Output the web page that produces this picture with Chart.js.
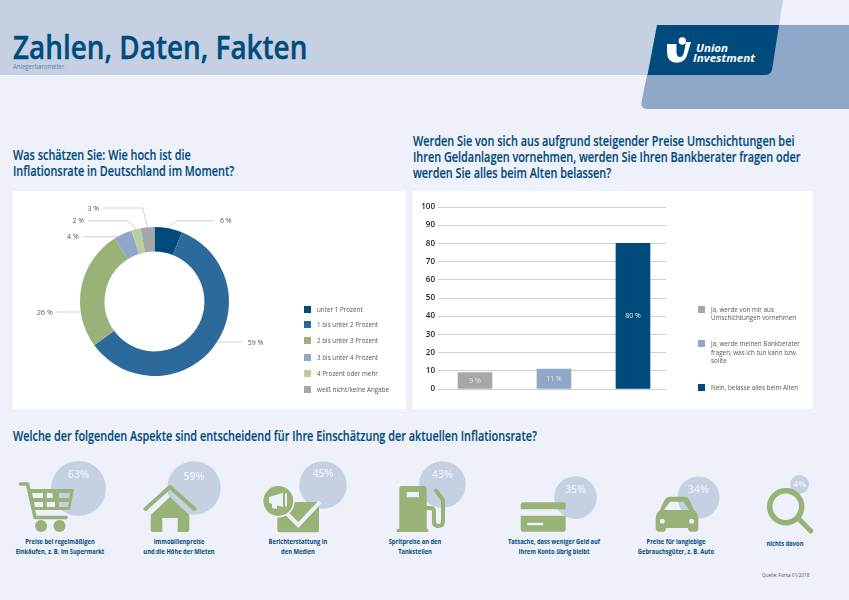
<!DOCTYPE html>
<html lang="de">
<head>
<meta charset="utf-8">
<title>Zahlen, Daten, Fakten</title>
<script src="https://cdn.jsdelivr.net/npm/chart.js@4"></script>
<style>
  html, body { margin: 0; padding: 0; }
  body { position: relative; width: 849px; height: 600px; overflow: hidden; background: #eef1f9; font-family: "Open Sans", sans-serif; }
  .abs { position: absolute; white-space: nowrap; }
  .panel { position: absolute; top: 191px; width: 393px; height: 218px; background: #fff; }
  canvas { position: absolute; display: block; }
  .titel { left: 13px; top: 25px; font-size: 33px; line-height: 44px; font-weight: 600; color: #004b7c; -webkit-text-stroke: .4px #004b7c; transform-origin: left center; transform: scaleX(.845); }
  .unter { left: 13px; top: 61px; font-size: 7.5px; line-height: 11px; color: #5f83a3; transform-origin: left center; transform: scaleX(.8); }
  .frage { font-size: 13.5px; line-height: 16px; font-weight: 600; color: #004b7c; -webkit-text-stroke: .15px #004b7c; transform-origin: left center; transform: scaleX(.805); }
  .legende { font-size: 7.5px; line-height: 8.7px; color: #555; transform-origin: left center; transform: scaleX(.84); }
  .kasten { position: absolute; width: 7px; height: 7px; }
  .aspekt { font-size: 7.5px; line-height: 10.5px; font-weight: 700; color: #004b7c; text-align: center; width: 130px; transform: scaleX(.77); }
  .quelle { left: 762px; top: 571px; font-size: 5.5px; line-height: 8px; color: #555; transform-origin: left center; transform: scaleX(.85); }
  svg { position: absolute; left: 0; top: 0; }
</style>
</head>
<body>

<!-- Kopfbereich -->
<svg width="849" height="120" style="z-index:0">
  <path d="M0 0H783L771 75H0Z" fill="#c5d0e3"/>
  <path d="M778 25H849V109H647Q640.500 109 641.500 102.500L647 75Z" fill="#8fa7c8"/>
  <path d="M657 25H779L772.200 69Q771 75 765 75H647.500Z" fill="#004b7c"/>
  <path d="M667 44H676.500V52Q676.500 57 680 57Q683 57 684 52L686 42H691L688 52Q686 62.700 677 62.700Q667 62.700 667 52Z" fill="#fff"/>
  <circle cx="682.300" cy="41" r="3.700" fill="#fff"/>
  <text x="696" y="51.700" font-family="Open Sans" font-size="10.500" font-weight="700" font-style="italic" fill="#fff" textLength="32" lengthAdjust="spacingAndGlyphs">Union</text>
  <text x="693" y="61.700" font-family="Open Sans" font-size="10.500" font-weight="700" font-style="italic" fill="#fff" textLength="62" lengthAdjust="spacingAndGlyphs">Investment</text>
</svg>
<div class="abs titel">Zahlen, Daten, Fakten</div>
<div class="abs unter">Anlegerbarometer</div>

<div class="abs frage" style="left:13px;top:147px">Was schätzen Sie: Wie hoch ist die<br>Inflationsrate in Deutschland im Moment?</div>
<div class="abs frage" style="left:413px;top:133px">Werden Sie von sich aus aufgrund steigender Preise Umschichtungen bei<br>Ihren Geldanlagen vornehmen, werden Sie Ihren Bankberater fragen oder<br>werden Sie alles beim Alten belassen?</div>
<div class="abs frage" style="left:13px;top:428px">Welche der folgenden Aspekte sind entscheidend für Ihre Einschätzung der aktuellen Inflationsrate?</div>

<div class="panel" style="left:13px"><canvas id="ringChart" width="393" height="218"></canvas></div>
<div class="panel" style="left:413px;width:400px"><canvas id="balkenChart" width="400" height="218"></canvas></div>

<div id="legenden"></div>
<div id="blasen"></div>

<!-- Symbole über den Blasen -->
<svg width="849" height="600" style="z-index:2;pointer-events:none" fill="#98b278">
  <!-- Einkaufswagen -->
  <path fill-rule="evenodd" d="M29 489H74L70 510H33.500ZM32 493L33 498H43V493ZM46.700 493V498H53V493ZM59 493V498H69L70 493ZM34 502L35 507H43V502ZM46.700 502V507H55V502ZM59 502V507H68L69 502Z"/>
  <path d="M20.500 484H27.500L35 517.500H66" fill="none" stroke="#98b278" stroke-width="3.500" stroke-linecap="round" stroke-linejoin="round"/>
  <circle cx="41" cy="526" r="6"/><circle cx="59.500" cy="526" r="6"/>
  <!-- Haus -->
  <path d="M145.500 509L170 487L194.500 509" fill="none" stroke="#98b278" stroke-width="4" stroke-linecap="round" stroke-linejoin="round"/>
  <path d="M150.700 515L170 497L189.300 515V530Q189.300 532 187 532H177.700V518H162.300V532H153Q150.700 532 150.700 530Z"/>
  <!-- Berichterstattung -->
  <path d="M277.300 502H319V530Q319 532.300 316.700 532.300H279.600Q277.300 532.300 277.300 530Z"/>
  <path d="M286.700 513.300L298.300 525L320 502" fill="none" stroke="#eef1f9" stroke-width="4"/>
  <circle cx="278.300" cy="501" r="16.500" fill="#eef1f9"/>
  <circle cx="278.300" cy="501" r="15"/>
  <path d="M269 497L283 493V507L269 503ZM272 504H277V509L272 508ZM285 493.500H287V506.500H285Z" fill="#eef1f9"/>
  <!-- Zapfsäule -->
  <path fill-rule="evenodd" d="M402 486H424Q426.700 486 426.700 489V529H428.300V532H396.700V529H399.300V489Q399.300 486 402 486ZM406.700 492V497.300H419V492Z"/>
  <path d="M427 508H431Q434 508 434 512V522Q434 526 438.500 526Q443 526 443 521V500L436 490.500" fill="none" stroke="#98b278" stroke-width="4" stroke-linecap="round" stroke-linejoin="round"/>
  <!-- Karte -->
  <path d="M520.700 509.300V505Q520.700 502.300 523.500 502.300H563Q565.700 502.300 565.700 505V509.300Z"/>
  <path fill-rule="evenodd" d="M520.700 515.700H565.700V529Q565.700 531.700 563 531.700H523.500Q520.700 531.700 520.700 529ZM527.300 522.700V525.300H543.300V522.700Z"/>
  <!-- Auto -->
  <path fill-rule="evenodd" d="M670 496.700H684Q688 496.700 690 501L694 510Q698.300 513 698.300 519V528Q698.300 531.700 695 531.700H691Q688 531.700 688 528H666Q666 531.700 663 531.700H659Q655.700 531.700 655.700 528V519Q655.700 513 660 510L664 501Q666 496.700 670 496.700ZM670 501.700L664 510H689.300L683.300 501.700ZM662.300 518.800A2.500 2.500 0 1 0 662.300 523.800A2.500 2.500 0 1 0 662.300 518.800ZM691.700 518.800A2.500 2.500 0 1 0 691.700 523.800A2.500 2.500 0 1 0 691.700 518.800Z"/>
  <!-- Lupe -->
  <circle cx="785.700" cy="506.700" r="16" fill="none" stroke="#98b278" stroke-width="5.500"/>
  <path d="M798.300 518.300L810.700 531" fill="none" stroke="#98b278" stroke-width="5" stroke-linecap="round"/>
</svg>

<div id="aspekte"></div>
<div class="abs quelle">Quelle: Forsa 01/2018</div>

<script>
// =========================================
// DATEN
// =========================================
const ringLabels = ["unter 1 Prozent", "1 bis unter 2 Prozent", "2 bis unter 3 Prozent", "3 bis unter 4 Prozent", "4 Prozent oder mehr", "weiß nicht/keine Angabe"];
const ringWerte = [6, 59, 26, 4, 2, 3];

const balkenLabels = [
    ["Ja, werde von mir aus", "Umschichtungen vornehmen"],
    ["Ja, werde meinen Bankberater", "fragen, was ich tun kann bzw.", "sollte"],
    ["Nein, belasse alles beim Alten"]
];
const balkenWerte = [9, 11, 80];

const aspektLabels = [
    ["Preise bei regelmäßigen", "Einkäufen, z. B. im Supermarkt"],
    ["Immobilienpreise", "und die Höhe der Mieten"],
    ["Berichterstattung in", "den Medien"],
    ["Spritpreise an den", "Tankstellen"],
    ["Tatsache, dass weniger Geld auf", "Ihrem Konto übrig bleibt"],
    ["Preise für langlebige", "Gebrauchsgüter, z. B. Auto"],
    ["nichts davon"]
];
const aspektWerte = [63, 59, 45, 43, 35, 34, 4];

// =========================================
// FARBEN UND LAYOUT
// =========================================
const ringFarben = ["#004b7c", "#2b6a9b", "#98b278", "#8fa7c9", "#b9cfa3", "#a5a7aa"];
const balkenFarben = ["#a5a7aa", "#8fa7c9", "#004b7c"];
const linienFarbe = "#cdd0d2";
const schrift = '"Open Sans", sans-serif';

// Beschriftungslinien des Rings, in Pixeln der Zeichenfläche (textX, y, optional Knick)
const ringLinien = [
    { textX: 201, y: 29.7, knickX: 162.7 },
    { textX: 228.7, y: 151 },
    { textX: 43.7, y: 121 },
    { textX: 69.7, y: 45.7 },
    { textX: 75, y: 29.7, knickX: 115 },
    { textX: 90, y: 17, knickX: 129.7 }
];

const ringLegendeY = [309, 324.3, 340, 357.3, 373, 389];
const balkenLegendeY = [309, 343.5, 387];

const blasenX = [78.5, 194, 322.5, 442.5, 575, 698, 799.5];
const blasenY = [488, 487.5, 485, 484, 497, 497, 484.5];
const blasenTextDy = [-13, -10.5, -11, -9, -7, -7, 0];
const aspektX = [60, 179, 298.3, 415, 553.8, 676, 785];
const aspektY = [535.5, 535.5, 535.5, 535.5, 535.5, 535.5, 537.5];

// =========================================
// RINGDIAGRAMM
// =========================================
const ringBeschriftung = {
    id: "ringBeschriftung",
    beforeDatasetsDraw(chart) {
        const ctx = chart.ctx;
        const boegen = chart.getDatasetMeta(0).data;
        ctx.save();
        ctx.lineWidth = 1;
        ctx.strokeStyle = linienFarbe;
        ctx.fillStyle = "#555";
        ctx.font = "7px " + schrift;
        ctx.textBaseline = "middle";
        boegen.forEach((bogen, i) => {
            const linie = ringLinien[i];
            const r = bogen.outerRadius;
            const winkel = (bogen.startAngle + bogen.endAngle) / 2;
            ctx.beginPath();
            ctx.moveTo(linie.textX, linie.y);
            if (linie.knickX) {
                // Knick, danach zur Mitte des Segments
                ctx.lineTo(linie.knickX, linie.y);
                ctx.lineTo(bogen.x + Math.cos(winkel) * r, bogen.y + Math.sin(winkel) * r);
            } else {
                // Waagerecht bis an den Ring
                const dy = linie.y - bogen.y;
                const dx = Math.sqrt(r * r - dy * dy);
                ctx.lineTo(bogen.x + (linie.textX > bogen.x ? dx : -dx), linie.y);
            }
            ctx.stroke();
            const rechts = linie.textX > bogen.x;
            ctx.textAlign = rechts ? "left" : "right";
            ctx.fillText(ringWerte[i] + " %", linie.textX + (rechts ? 6 : -4), linie.y + 0.7);
        });
        ctx.restore();
    }
};

function criarRing() {
    new Chart(document.getElementById("ringChart"), {
        type: "doughnut",
        data: {
            labels: ringLabels,
            datasets: [{ data: ringWerte, backgroundColor: ringFarben, borderWidth: 0 }]
        },
        options: {
            responsive: false,
            animation: false,
            cutout: "67%",
            layout: { padding: { left: 67, right: 177, top: 36, bottom: 33 } },
            plugins: { legend: { display: false }, tooltip: { enabled: false } }
        },
        plugins: [ringBeschriftung]
    });
}

// =========================================
// BALKENDIAGRAMM
// =========================================
const balkenBeschriftung = {
    id: "balkenBeschriftung",
    afterDatasetsDraw(chart) {
        const ctx = chart.ctx;
        ctx.save();
        ctx.fillStyle = "#e6e8ea";
        ctx.font = "7px " + schrift;
        ctx.textAlign = "center";
        ctx.textBaseline = "middle";
        chart.getDatasetMeta(0).data.forEach((balken, i) => {
            ctx.fillText(balkenWerte[i] + " %", balken.x, (balken.y + balken.base) / 2);
        });
        ctx.restore();
    }
};

function criarBalken() {
    new Chart(document.getElementById("balkenChart"), {
        type: "bar",
        data: {
            datasets: [{
                data: balkenWerte.map((wert, i) => ({ x: i, y: wert })),
                backgroundColor: balkenFarben,
                barThickness: 34
            }]
        },
        options: {
            responsive: false,
            animation: false,
            layout: { padding: { top: 16, right: 147, bottom: 20, left: 0 } },
            scales: {
                x: { type: "linear", display: false, offset: false, min: -0.468, max: 2.418 },
                y: {
                    min: 0,
                    max: 100,
                    afterFit(scale) { scale.width = 25; },
                    border: { display: false },
                    grid: { color: linienFarbe, drawTicks: false },
                    ticks: { stepSize: 10, padding: 3, color: "#222", font: { family: schrift, size: 8, weight: "600" } }
                }
            },
            plugins: { legend: { display: false }, tooltip: { enabled: false } }
        },
        plugins: [balkenBeschriftung]
    });
}

// =========================================
// BLASEN DER UNTEREN REIHE
// =========================================
function blasenRadius(wert) {
    return 3.44 + 3.03 * Math.sqrt(wert);
}

function criarBlase(wert, i) {
    const r = blasenRadius(wert);
    const seite = Math.ceil(r * 2) + 4;
    const canvas = document.createElement("canvas");
    canvas.width = seite;
    canvas.height = seite;
    canvas.style.left = blasenX[i] - seite / 2 + "px";
    canvas.style.top = blasenY[i] - seite / 2 + "px";
    canvas.style.zIndex = 1;
    document.getElementById("blasen").appendChild(canvas);

    new Chart(canvas, {
        type: "bubble",
        data: { datasets: [{ data: [{ x: 0, y: 0, r: r }], backgroundColor: "#c5d0e3", borderWidth: 0 }] },
        options: {
            responsive: false,
            animation: false,
            layout: { autoPadding: false },
            scales: {
                x: { display: false, min: -1, max: 1 },
                y: { display: false, min: -1, max: 1 }
            },
            plugins: { legend: { display: false }, tooltip: { enabled: false } }
        },
        plugins: [{
            id: "blasenText",
            afterDatasetsDraw(chart) {
                const punkt = chart.getDatasetMeta(0).data[0];
                const ctx = chart.ctx;
                ctx.save();
                ctx.fillStyle = "#eef1f9";
                ctx.font = "600 " + (wert < 10 ? 9 : 10.5) + "px " + schrift;
                ctx.textAlign = "center";
                ctx.textBaseline = "middle";
                ctx.fillText(wert + "%", punkt.x, punkt.y + blasenTextDy[i]);
                ctx.restore();
            }
        }]
    });
}

// =========================================
// HTML-TEXTE: LEGENDEN UND ASPEKTE
// =========================================
function criarLegende(labels, farben, zeilenY, kastenX, textX) {
    const ziel = document.getElementById("legenden");
    labels.forEach((label, i) => {
        const zeilen = Array.isArray(label) ? label : [label];
        const kasten = document.createElement("div");
        kasten.className = "kasten";
        kasten.style.cssText = `left:${kastenX}px;top:${zeilenY[i] - 3.5}px;background:${farben[i]}`;
        ziel.appendChild(kasten);
        const text = document.createElement("div");
        text.className = "abs legende";
        text.style.cssText = `left:${textX}px;top:${zeilenY[i] - 4.5}px`;
        text.innerHTML = zeilen.join("<br>");
        ziel.appendChild(text);
    });
}

function criarAspekte() {
    const ziel = document.getElementById("aspekte");
    aspektLabels.forEach((zeilen, i) => {
        const text = document.createElement("div");
        text.className = "abs aspekt";
        text.style.cssText = `left:${aspektX[i] - 65}px;top:${aspektY[i]}px`;
        text.innerHTML = zeilen.join("<br>");
        ziel.appendChild(text);
    });
}

// =========================================
// START
// =========================================
window.addEventListener("DOMContentLoaded", () => {
    criarRing();
    criarBalken();
    aspektWerte.forEach(criarBlase);
    criarLegende(ringLabels, ringFarben, ringLegendeY, 304, 317);
    criarLegende(balkenLabels, balkenFarben, balkenLegendeY, 698, 711);
    criarAspekte();
});
</script>
</body>
</html>
